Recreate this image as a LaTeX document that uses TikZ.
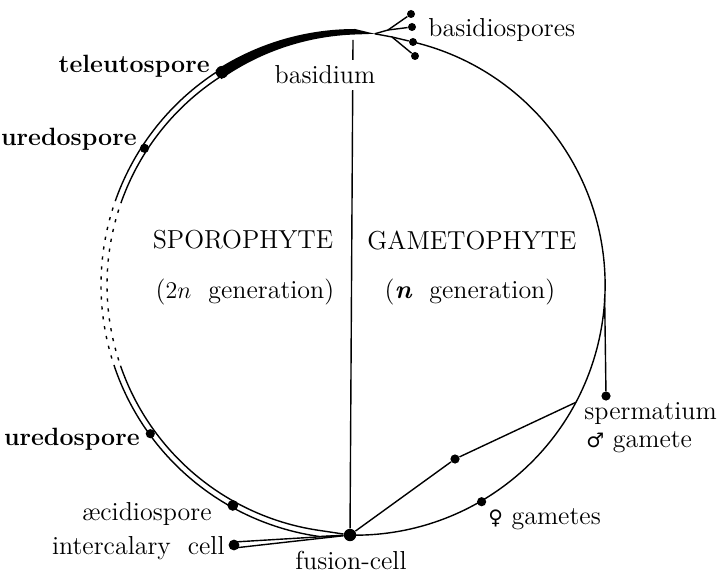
\documentclass[tikz,border=0pt]{standalone}
\usepackage{fontspec}
\newfontfamily\signfont{DejaVu Sans}
\usetikzlibrary{calc}

\begin{document}
\begin{tikzpicture}[x=0.5pt, y=0.5pt,
        lbl/.style={font=\fontsize{13}{15}\selectfont, inner sep=1pt},
        blbl/.style={font=\fontsize{12.5}{15}\selectfont\bfseries, inner sep=1pt},
        spore/.style={circle, fill, inner sep=0pt, minimum size=4.6pt},
        wall/.style={line width=0.7pt},
        gap/.style={line width=0.7pt, dash pattern=on 1.6pt off 3.4pt}
    ]
    \useasboundingbox (0,0) rectangle (721,573);
    \coordinate (C) at (355,288);
    % spores and cells
    \node[spore, minimum size=6.2pt] (fusion) at (350,38) {};
    \node[spore, minimum size=6.2pt] (teleuto) at ($(C)+(122:251)$) {};
    \node[spore] (uredoA) at ($(C)+(147:251)$) {};
    \node[spore] (uredoB) at ($(C)+(216:253)$) {};
    \node[spore, minimum size=5.4pt] (aecidio) at ($(C)+(241:252)$) {};
    \node[spore, minimum size=5.4pt] (inter) at (234,28) {};
    \node[spore, minimum size=4pt] (b1) at (411,559) {};
    \node[spore, minimum size=4pt] (b2) at (412,546) {};
    \node[spore, minimum size=4pt] (b3) at (413,531) {};
    \node[spore, minimum size=4pt] (b4) at (415,517) {};
    \node[spore] (sperm) at (606,177) {};
    \node[spore] (mid) at (455,114) {};
    \node[spore] (female) at ($(C)+(-59.7:251)$) {};
    \coordinate (tip) at ($(C)+(85.5:252)$);
    \coordinate (splitU) at (388,543);
    \coordinate (splitL) at (392,536);
    \coordinate (top) at (353,533);
    \coordinate (spout) at ($(C)+(-3:250)$);
    \coordinate (branch) at ($(C)+(-28:250)$);

    % sporophyte, double wall
    \foreach \r in {248,254} {
        \draw[wall] ($(C)+(123:\r)$) arc[start angle=123, end angle=160, radius=\r];
        \draw[gap] ($(C)+(160:\r)$) arc[start angle=160, end angle=199, radius=\r];
        \draw[wall] ($(C)+(199:\r)$) arc[start angle=199, end angle=262, radius=\r] -- (fusion);
    }
    \draw[wall] ($(inter)+(0,3)$) -- (fusion);
    \draw[wall] ($(inter)+(0,-3)$) -- (fusion);
    % teleutospore to basidium
    \fill ($(C)+(123:256)$) arc[start angle=123, end angle=90, radius=256]
        -- (tip)
        -- plot[domain=90:123, samples=34] ({355+(250.5-5*(\x-90)/33)*cos(\x)}, {288+(250.5-5*(\x-90)/33)*sin(\x)})
        -- cycle;
    \draw[wall] (tip) -- (splitU) -- (b1);
    \draw[wall] (splitU) -- (b2);
    \draw[wall] (tip) -- (splitL) -- (b3);
    \draw[wall] (splitL) -- (b4);
    % gametophyte
    \draw[wall] (b3) arc[start angle=76.6, end angle=-91, radius=250];
    \draw[wall] (spout) -- (sperm);
    \draw[wall] (branch) -- (mid) -- (fusion);
    \draw[wall] (fusion) -- (top);

    % labels
    \node[lbl, fill=white, inner sep=3pt] (basidium) at (325,498) {basidium};
    \node[lbl, anchor=west] (spores) at (426,543) {basidiospores};
    \node[blbl, anchor=east] (teleutoL) at (212,507) {teleutospore};
    \node[blbl, anchor=east] (uredoAL) at (139,434) {uredospore};
    \node[blbl, anchor=east] (uredoBL) at (142,134) {uredospore};
    \node[lbl, anchor=east] (aecidioL) at (214,59) {æcidiospore};
    \node[lbl, anchor=east] (interL) at (227,25) {intercalary\ \ cell};
    \node[lbl] (fusionL) at (351,13) {fusion-cell};
    \node[lbl] (sporo) at (243,333) {SPOROPHYTE};
    \node[lbl] (gameto) at (472,333) {GAMETOPHYTE};
    \node[lbl] (sporoN) at (245,281) {($2n$\ \ generation)};
    \node[lbl] (gametoN) at (470,281) {(\textbf{\textit{n}}\ \ generation)};
    \node[lbl, anchor=west] (spermL) at (582,159) {spermatium};
    \node[lbl, anchor=west] (maleL) at (584,131) {{\signfont\fontsize{10}{12}\selectfont ♂} gamete};
    \node[lbl, anchor=west] (femaleL) at (486,54) {{\signfont\fontsize{10}{12}\selectfont ♀} gametes};
\end{tikzpicture}
\end{document}
